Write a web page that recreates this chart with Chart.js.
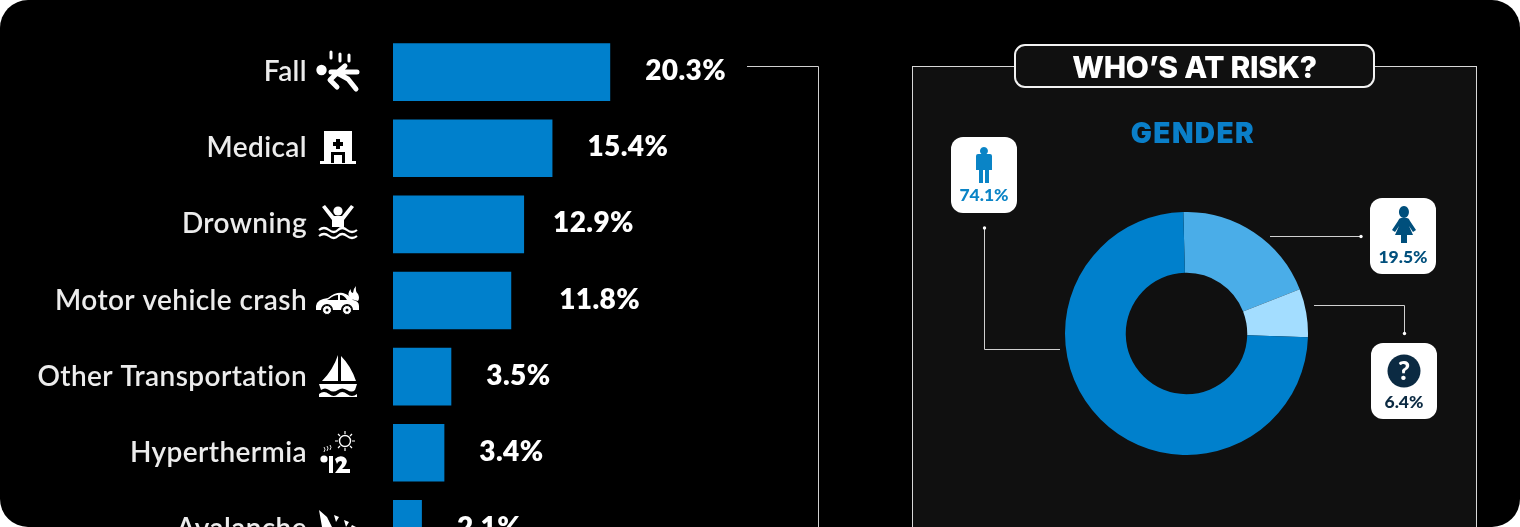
<!DOCTYPE html>
<html>
<head>
<meta charset="utf-8">
<style>
html, body { margin: 0; padding: 0; background: #fff; overflow: hidden; }
#page { position: relative; width: 1520px; height: 527px; background: #000; border-radius: 28px; overflow: hidden; font-family: Lato, sans-serif; }
#panel { position: absolute; left: 912px; top: 66px; width: 563px; height: 480px; background: #101010; border: 1px solid #d8d8d8; }
#barChart { position: absolute; left: 0; top: 0; }
#genderChart { position: absolute; left: 1065px; top: 212px; }
#lines { position: absolute; left: 0; top: 0; }
#riskTitle { position: absolute; left: 1014px; top: 44px; width: 357px; height: 40px; background: #101010; border: 2px solid #f2f2f2; border-radius: 11px; color: #fff; font: 800 30px/43px Inter, sans-serif; letter-spacing: -0.3px; text-align: center; }
.heading { position: absolute; left: 1093px; width: 200px; color: #0a7fc9; font: 900 28px/30px Inter, sans-serif; letter-spacing: 1.4px; text-align: center; }
.card { position: absolute; width: 66px; height: 76px; background: #fff; border-radius: 12px; }
.card span { position: absolute; left: 0; top: 49px; width: 100%; font: 900 17.5px/20px Lato, sans-serif; text-align: center; }
</style>
</head>
<body>
<div id="page">
    <div id="panel"></div>
    <canvas id="barChart" width="928" height="600"></canvas>
    <canvas id="genderChart" width="243" height="243"></canvas>

    <svg id="lines" width="1520" height="527" fill="#fff">
        <g fill="none" stroke="#d0d0d0" stroke-width="1">
            <path d="M747 66.5H818.5V527"/>
            <path d="M984.5 228V349.5H1060"/>
            <path d="M1270 236.5H1361"/>
            <path d="M1314 305.5H1404.5V333"/>
        </g>
        <circle cx="984.5" cy="228" r="1.7"/>
        <circle cx="1361" cy="236.5" r="1.7"/>
        <circle cx="1404.5" cy="333.5" r="1.7"/>

        <!-- fall -->
        <g stroke="#fff" stroke-linecap="round" fill="none">
            <path stroke-width="3" d="M331 52V58M340 54V61M349 55V61"/>
            <path stroke-width="5" stroke-linejoin="round" d="M331 72L338 72L345 66M338 72L330 80L337 87M339 74L348 79L356 89M344 72L357 72"/>
        </g>
        <circle cx="321.5" cy="70" r="5.2"/>

        <!-- medical -->
        <path d="M324 131H352V161H324ZM320 161H356V164H320Z"/>
        <path fill="#000" d="M336 139H340V142H343V146H340V149H336V146H333V142H336ZM331 163V152H345V163H342V155H334V163Z"/>

        <!-- drowning -->
        <circle cx="338" cy="211" r="4.6"/>
        <path d="M322 207L325 205L334 216H342L351 205L354 207L344 220V227H332V220Z"/>
        <g stroke="#fff" stroke-width="2.2" fill="none">
            <path d="M319 230Q324 226 329 230T338 230T347 230T357 230"/>
            <path d="M319 236Q324 232 329 236T338 236T347 236T357 236"/>
        </g>

        <!-- motor vehicle crash -->
        <path d="M316 306Q317 299 328 298Q335 292 343 293Q350 295 353 300Q359 301 359 306V310H353A6 6 0 0 0 341 310H333A6 6 0 0 0 321 310H316Z"/>
        <path d="M351 299Q346 293 351 289Q350 292 353 293Q353 289 356 286Q355 291 358 294Q360 298 358 301Z"/>
        <path fill="#000" d="M329 299Q334 295 338 295V300H327ZM340 295Q344 295 347 300H340Z"/>
        <g fill="#fff" stroke="#000" stroke-width="1">
            <circle cx="327" cy="310" r="4.5"/>
            <circle cx="347" cy="310" r="4.5"/>
        </g>
        <circle cx="327" cy="310" r="1.5" fill="#000"/>
        <circle cx="347" cy="310" r="1.5" fill="#000"/>

        <!-- other transportation -->
        <path d="M338 355V381H322Q333 370 338 355ZM341 356Q351 366 356 381H341Z"/>
        <path d="M319 384H357L355 390Q352 393 347 390Q342 387 338 390Q333 393 329 390Q325 387 321 390Z"/>
        <path d="M319 394Q324 390 329 394T338 394T347 394T357 394V397H319Z"/>

        <!-- hyperthermia -->
        <circle cx="345" cy="441" r="5.5" fill="none" stroke="#fff" stroke-width="1.4"/>
        <path fill="none" stroke="#fff" stroke-width="1.2" d="M345 431V434M345 448V451M335 441H338M352 441H355M338 434L340 436M350 446L352 448M338 448L340 446M350 436L352 434"/>
        <path fill="none" stroke="#fff" stroke-width="0.9" d="M324 447Q326 449 324 452M327 446Q329 448 327 451M330 445Q332 447 330 450"/>
        <circle cx="324" cy="459" r="3.6"/>
        <path d="M329 456H333V473H329ZM335 459Q339 455 344 457Q349 460 345 466L342 469H350V473H335L341 465Q343 462 341 461Q338 461 337 464Z"/>

        <!-- avalanche -->
        <path d="M319 510L327 517L332 527H322ZM334 515L339 517L336 522ZM344 520L349 522L346 527ZM352 525L356 527H351Z"/>
    </svg>

    <div id="riskTitle">WHO’S AT RISK?</div>
    <div class="heading" style="top: 118px">GENDER</div>
    <div class="heading" style="top: 524px">AGE</div>

    <div class="card" style="left: 951px; top: 137px">
        <svg width="66" height="46"><path fill="#0a84c6" d="M33 10A4 4 0 1 1 32.9 10ZM25 19Q25 17 27 17H39Q41 17 41 19V33H38V46H34V33H32V46H28V33H25Z"/></svg>
        <span style="color: #0a84c6; top: 48px">74.1%</span>
    </div>
    <div class="card" style="left: 1370px; top: 198px">
        <svg width="66" height="46"><path fill="#004f7c" d="M34 8A5 6 0 1 1 33.9 8ZM31 20H37Q39 20 40 23L46 32L43 34L39 28L43 37H37V45H31V37H25L29 28L25 34L22 32L28 23Q29 20 31 20Z"/></svg>
        <span style="color: #004f7c">19.5%</span>
    </div>
    <div class="card" style="left: 1371px; top: 343px">
        <svg width="66" height="46"><circle cx="33" cy="28" r="16.5" fill="#0b2a42"/><text x="33" y="37" text-anchor="middle" fill="#fff" font-family="Lato" font-weight="900" font-size="26">?</text></svg>
        <span style="color: #0b2a42">6.4%</span>
    </div>
</div>

<script src="https://cdn.jsdelivr.net/npm/chart.js@4/dist/chart.umd.min.js"></script>
<script>
var categories = ['Fall', 'Medical', 'Drowning', 'Motor vehicle crash', 'Other Transportation', 'Hyperthermia', 'Avalanche'];
// the printed shares
var shareLabels = ['20.3%', '15.4%', '12.9%', '11.8%', '3.5%', '3.4%', '2.1%'];
// the bars are not to scale with the printed shares, so these are read off the bar lengths
var barLengths = [20.3, 14.9, 12.25, 11.05, 5.45, 4.8, 2.7];

var genderLabels = ['Female', 'Unknown', 'Male'];
var genderValues = [19.5, 6.4, 74.1];

// per-bar label adjustment, the labels don't sit evenly in the reference
var labelShift = [0, 0, -6, 13, 0, 0, 0];

var barValueLabels = {
    id: 'barValueLabels',
    beforeDraw: function(chart) {
        chart.ctx.letterSpacing = '0.4px';
    },
    afterDatasetsDraw: function(chart) {
        var ctx = chart.ctx;
        ctx.save();
        ctx.fillStyle = '#fff';
        ctx.font = '800 28px Lato';
        ctx.textBaseline = 'middle';
        chart.getDatasetMeta(0).data.forEach(function(bar, i) {
            ctx.fillText(shareLabels[i], bar.x + 35 + labelShift[i], bar.y - 1);
        });
        ctx.restore();
    }
};

var barChart = new Chart(document.getElementById('barChart'), {
    type: 'bar',
    data: {
        labels: categories,
        datasets: [{
            data: barLengths,
            backgroundColor: '#0080cc',
            barPercentage: 1,
            categoryPercentage: 0.757
        }]
    },
    options: {
        responsive: false,
        animation: false,
        indexAxis: 'y',
        layout: {
            autoPadding: false,
            padding: { top: 34, bottom: 33 }
        },
        plugins: {
            legend: { display: false },
            tooltip: { enabled: false }
        },
        scales: {
            x: {
                display: false,
                min: 0,
                max: 50
            },
            y: {
                afterFit: function(scale) {
                    scale.width = 393;
                },
                border: { display: false },
                // the long transparent tick makes the room for the icons, ticks.padding would squash the bars
                grid: { drawOnChartArea: false, tickLength: 86, tickColor: 'transparent' },
                ticks: {
                    color: '#ececec',
                    padding: 0,
                    font: { family: 'Lato', size: 28, weight: '600' }
                }
            }
        }
    },
    plugins: [barValueLabels]
});

var genderChart = new Chart(document.getElementById('genderChart'), {
    type: 'doughnut',
    data: {
        labels: genderLabels,
        datasets: [{
            data: genderValues,
            backgroundColor: ['#4aade8', '#a3ddff', '#0080cc'],
            borderWidth: 0
        }]
    },
    options: {
        responsive: false,
        animation: false,
        cutout: '50%',
        rotation: -1.5,
        plugins: {
            legend: { display: false },
            tooltip: { enabled: false }
        }
    }
});
</script>
</body>
</html>
